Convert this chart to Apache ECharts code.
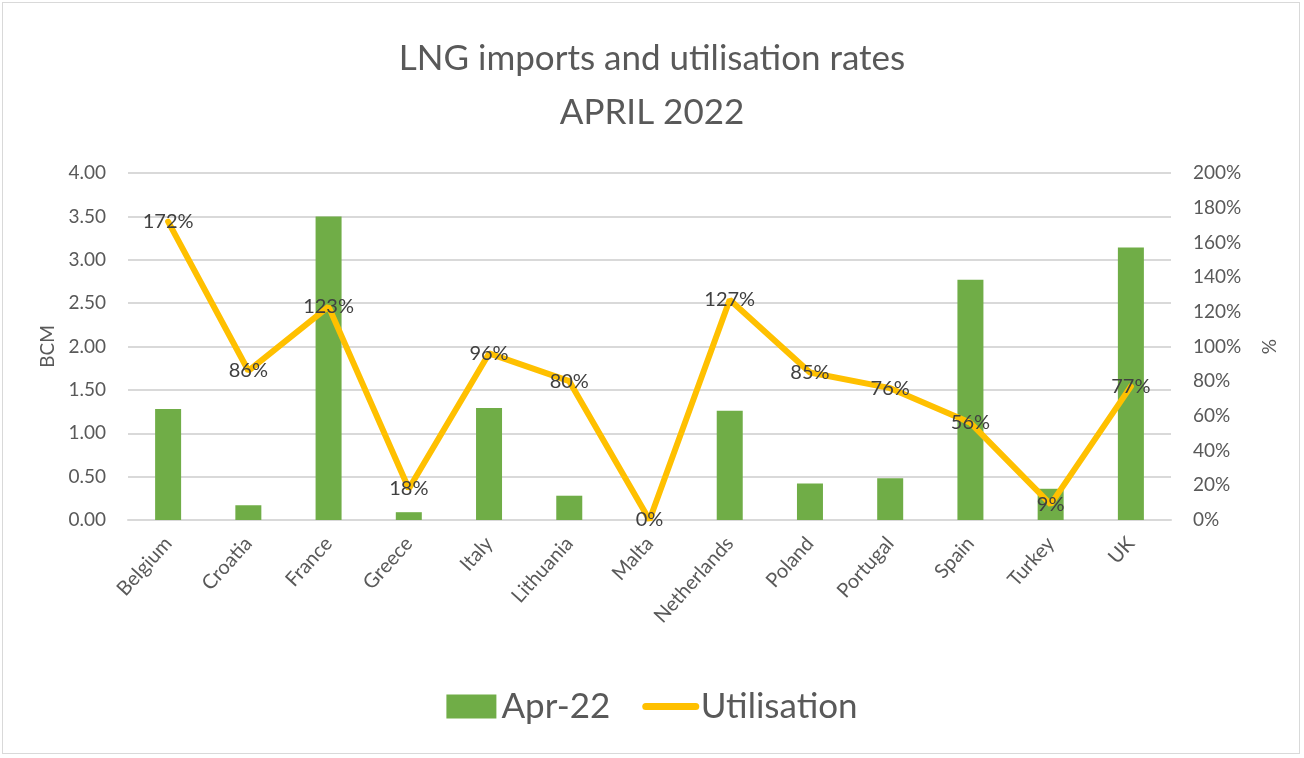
<!DOCTYPE html>
<html><head><meta charset="utf-8">
<script src="https://cdn.jsdelivr.net/npm/echarts@6/dist/echarts.min.js"></script>
<style>
html,body{margin:0;padding:0;background:#fff;}
#frame{position:absolute;left:2px;top:2px;width:1298px;height:752px;border:1px solid #d9d9d9;box-sizing:border-box;}
#c{position:absolute;left:0;top:0;width:1304px;height:758px;}
</style></head>
<body><div id="frame"></div><div id="c"></div>
<script>
const categories = ['Belgium','Croatia','France','Greece','Italy','Lithuania','Malta','Netherlands','Poland','Portugal','Spain','Turkey','UK'];
const imports = [1.28, 0.17, 3.50, 0.09, 1.29, 0.28, 0.00, 1.26, 0.42, 0.48, 2.77, 0.36, 3.14];
const utilisation = [172, 86, 123, 18, 96, 80, 0, 127, 85, 76, 56, 9, 77];
const titleLines = ['LNG imports and utilisation rates', 'APRIL 2022'];

const font = 'Lato, "Open Sans", sans-serif';
const chart = echarts.init(document.getElementById('c'));
chart.setOption({
  animation:false,
  textStyle:{fontFamily:font},
  title:{text:titleLines.join('\n'), left:'center', top:27, textStyle:{fontFamily:font, fontSize:35, fontWeight:'normal', color:'#595959', lineHeight:54}},
  legend:{bottom:29, left:'center', itemGap:32, textStyle:{fontFamily:font, fontSize:35, color:'#595959'},
    data:[{name:'Apr-22', icon:'rect'},{name:'Utilisation', itemStyle:{opacity:0}, lineStyle:{width:7, cap:'round'}}], itemWidth:50, itemHeight:24},
  grid:{left:128, right:133, top:173, bottom:238},
  xAxis:{type:'category', data:categories, axisLine:{lineStyle:{color:'#d9d9d9', width:2}}, axisTick:{show:false},
    axisLabel:{rotate:48, color:'#595959', fontSize:20, fontFamily:font, margin:20, interval:0}},
  yAxis:[
    {type:'value', min:0, max:4, interval:0.5, name:'BCM', nameLocation:'middle', nameGap:70, nameRotate:90,
     nameTextStyle:{color:'#595959', fontSize:19, fontFamily:font},
     axisLabel:{formatter:v=>v.toFixed(2), color:'#595959', fontSize:19, fontFamily:font, margin:22},
     splitLine:{lineStyle:{color:'#d9d9d9', width:2}}, axisLine:{show:false}, axisTick:{show:false}},
    {type:'value', min:0, max:200, interval:20, name:'%', nameLocation:'middle', nameGap:88, nameRotate:-90,
     nameTextStyle:{color:'#595959', fontSize:19, fontFamily:font},
     axisLabel:{formatter:v=>v+'%', color:'#595959', fontSize:19, fontFamily:font, margin:22},
     splitLine:{show:false}, axisLine:{show:false}, axisTick:{show:false}}
  ],
  series:[
    {name:'Apr-22', type:'bar', data:imports, barWidth:26, itemStyle:{color:'#70AD47'}, yAxisIndex:0},
    {name:'Utilisation', type:'line', data:utilisation, yAxisIndex:1, symbol:'circle', symbolSize:1, showSymbol:true,
     itemStyle:{color:'#FFC000', opacity:0}, color:'#FFC000', z:3,
     lineStyle:{color:'#FFC000', width:6, cap:'round', opacity:1},
     labelLayout:{hideOverlap:false},
     label:{show:true, position:'inside', offset:[0,3], formatter:p=>p.value+'%', color:'#404040', fontSize:20, fontFamily:font, opacity:1}}
  ]
});
</script></body></html>
